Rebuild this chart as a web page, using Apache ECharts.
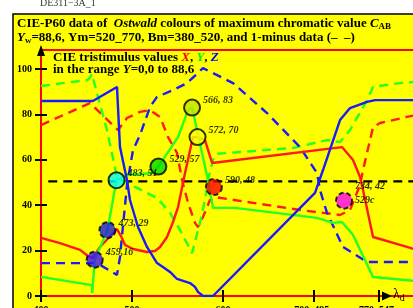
<!DOCTYPE html>
<html><head><meta charset="utf-8">
<script src="https://cdn.jsdelivr.net/npm/echarts@6/dist/echarts.min.js"></script>
<style>html,body{margin:0;padding:0;background:#fff}#c{width:413px;height:308px}</style>
</head><body><div id="c"></div>
<script>
// ---- data (x = dominant wavelength scale, y = tristimulus value) ----
const xTicks = [400, 500, 600, 700, 771];
const xTickLabels = ['400', '500', '600', '700  495c', '770  547c'];
const yTicks = [0, 20, 40, 60, 80, 100];

const seriesX = [[400,25.6],[420.9,23.3],[442.9,20.3],[451.7,17.6],[457,16.7],[464.8,21.6],[483.5,29.5],[487.9,26.4],[492.3,22.5],[501.1,20.7],[516.5,19.4],[525.3,19.8],[530.8,21.6],[538.5,26.0],[545.1,32.6],[550.6,39.2],[558.3,54.2],[567,70.0],[572,70],[580.2,68.7],[588,58.6],[730.8,65.6],[742.9,59.9],[750.6,52.4],[753.9,46.7],[764.9,26.0],[802.2,21.6],[814,20.2]];
const seriesY = [[400,8.4],[456,4.8],[456.3,1.3],[459,16],[473,29],[483,51],[494.5,53.3],[523.1,54.2],[529,57],[550.6,70.0],[561.6,81.9],[566,83],[583.5,51.1],[589,38.8],[613.2,38.8],[703.3,34.4],[720.9,32.2],[730.8,32.6],[742.9,26.9],[764.9,8.4],[814,6.5]];
const seriesZ = [[400,85.9],[457,85.9],[483.5,92.1],[486.8,65.6],[494.5,51.1],[497.8,42.3],[506.6,30.4],[516.5,21.6],[527.5,14.5],[534,12.8],[541.8,10.6],[549.5,7.5],[563.8,5.7],[569.2,4.0],[572.5,1.8],[578,0],[589,0],[701.1,45.4],[709.9,55.5],[728.6,77.5],[739.6,82.8],[758.3,85.5],[767.1,86.3],[814,86.3]];
const seriesX1 = [[400,75.3],[453.9,85.0],[484.6,73.1],[494.5,78.4],[508.8,81.1],[519.8,81.9],[530.8,78.9],[539.6,70.0],[549.5,63.0],[555,51.1],[561.6,41.0],[569.2,32.2],[572.5,30.4],[578,34.8],[585.7,42.3],[591.2,43.6],[684.6,37.9],[728.6,35.7],[739.6,37.9],[750.6,48.9],[753.9,55.5],[764.9,74.4],[772.6,76.2],[802.2,78.9],[814,79.9]];
const seriesY1 = [[400,92.5],[451.7,95.2],[456,97.8],[462.6,87.7],[472.5,73.1],[483.5,52.4],[494.5,49.8],[527.5,43.2],[541.8,36.6],[552.8,29.1],[566,18.9],[574.7,32.2],[580.2,42.3],[583.5,51.1],[589,59.9],[592.3,62.6],[676.9,65.2],[714.3,68.7],[728.6,67.8],[739.6,73.1],[758.3,86.3],[764.9,92.1],[794.5,93.8],[814,94.4]];
const seriesZ1 = [[400,14.5],[461.5,14.5],[483.5,9.3],[486.8,17.2],[494.5,48.9],[501.1,64.3],[508.8,70.9],[519.8,83.3],[527.5,87.7],[545.1,90.7],[560.5,93.8],[578,100.4],[611,93.8],[648.4,80.6],[684.6,65.6],[703.3,54.2],[706.6,46.7],[714.3,36.6],[731.9,21.6],[758.3,15.0],[814,15.0]];
const midLine = [[408,50.5],[814,50.5]];

const pointLambda = [459, 473, 483, 529, 566, 572, 590, 733];
const pointY = [16, 29, 51, 57, 83, 70, 48, 42];
const pointLabel = ['459,16', '473, 29', '483, 51', '529, 57', '566, 83', '572, 70', '590, 48', '734, 42\n529c'];
const pointColor = ['#3a10ff', '#1a1ae8', '#00ffff', '#00d800', '#c4e400', '#ffff00', '#ff0000', '#ff00ff'];
const pointDashed = [true, true, false, false, false, false, true, true];

const serif = '"Liberation Serif","DejaVu Serif",serif';
const chart = echarts.init(document.getElementById('c'), null, {renderer: 'canvas'});

function lineS(data, color, dashed, w) {
  return {type: 'line', data: data, symbol: 'none', silent: true, z: 3,
    lineStyle: {color: color, width: w || 2.4, type: dashed ? [9, 6] : 'solid'}};
}

const scatterData = pointLambda.map((l, i) => ({
  value: [l, pointY[i]],
  itemStyle: {color: pointColor[i], borderColor: '#000', borderWidth: 2, borderType: pointDashed[i] ? [5, 3] : 'solid'},
  label: {formatter: pointLabel[i]}
}));

chart.setOption({
  animation: false,
  backgroundColor: '#ffffff',
  grid: {left: 41, right: -5, top: 50, bottom: 12, outerBoundsMode: 'none', containLabel: false,
    show: true, borderColor: '#ff0000', borderWidth: 2, backgroundColor: 'transparent'},
  xAxis: [{
    type: 'value', min: 400, max: 814.3,
    axisLine: {show: true, lineStyle: {color: '#ff0000', width: 2}},
    splitLine: {show: false},
    axisTick: {show: true, customValues: xTicks, length: 6, lineStyle: {color: '#000', width: 2}},
    axisLabel: {customValues: xTicks, margin: 9, fontFamily: serif, fontWeight: 'bold', fontSize: 10, color: '#000',
      formatter: v => xTickLabels[xTicks.indexOf(v)] || ''}
  }, {
    type: 'value', min: 400, max: 814.3, position: 'bottom',
    axisLine: {show: false}, splitLine: {show: false}, axisLabel: {show: false},
    axisTick: {show: true, inside: true, customValues: xTicks, length: 6, lineStyle: {color: '#000', width: 2}}
  }],
  yAxis: [{
    type: 'value', min: 0, max: 108.37,
    axisLine: {show: true, lineStyle: {color: '#ff0000', width: 2}},
    splitLine: {show: false},
    axisTick: {show: true, customValues: yTicks, length: 6, lineStyle: {color: '#000', width: 2}},
    axisLabel: {customValues: yTicks, margin: 9, fontFamily: serif, fontWeight: 'bold', fontSize: 10, color: '#000'}
  }, {
    type: 'value', min: 0, max: 108.37, position: 'left',
    axisLine: {show: false}, splitLine: {show: false}, axisLabel: {show: false},
    axisTick: {show: true, inside: true, customValues: yTicks, length: 6, lineStyle: {color: '#000', width: 2}}
  }],
  series: [
    lineS(midLine, '#000000', true, 2.4),
    lineS(seriesX1, '#ff1a1a', true),
    lineS(seriesY1, '#22ff22', true),
    lineS(seriesZ1, '#1a1aff', true),
    lineS(seriesX, '#ff1a1a', false),
    lineS(seriesY, '#22ff22', false),
    lineS(seriesZ, '#1a1aff', false),
    {type: 'scatter', data: scatterData, symbolSize: 16, z: 5, silent: true,
      label: {show: true, position: 'right', distance: 2, offset: [0, -7], fontFamily: serif, fontStyle: 'italic', fontWeight: 'bold', fontSize: 10, color: '#000', lineHeight: 14}}
  ],
  graphic: [
    {type: 'rect', z: -10, shape: {x: 13, y: 14, width: 420, height: 310}, style: {fill: '#ffff00', stroke: '#000', lineWidth: 1.5}},
    {type: 'text', x: 40, y: -2, style: {text: 'DE311\u22123A_1', font: '10px ' + serif, fill: '#333'}},
    {type: 'text', x: 17, y: 16, style: {text: '{b|CIE-P60 data of  }{bi|Ostwald}{b| colours of maximum chromatic value }{bi|C}{s|AB}',
      rich: {b: {font: 'bold 13px ' + serif, fill: '#000'}, bi: {font: 'italic bold 13px ' + serif, fill: '#000'}, s: {font: 'bold 9px ' + serif, fill: '#000', padding: [6, 0, 0, 0]}}}},
    {type: 'text', x: 17, y: 30, style: {text: '{bi|Y}{s|w}{b|=88,6, Ym=520_770, Bm=380_520, and 1-minus data (\u2013  \u2013)}',
      rich: {b: {font: 'bold 13px ' + serif, fill: '#000'}, bi: {font: 'italic bold 13px ' + serif, fill: '#000'}, s: {font: 'bold 9px ' + serif, fill: '#000', padding: [6, 0, 0, 0]}}}},
    {type: 'text', x: 53, y: 51, style: {text: '{b|CIE tristimulus values }{r|X}{b|, }{g|Y}{b|, }{z|Z}',
      rich: {b: {font: 'bold 13px ' + serif, fill: '#000'}, r: {font: 'italic bold 13px ' + serif, fill: '#ff0000'}, g: {font: 'italic bold 13px ' + serif, fill: '#00ee00'}, z: {font: 'italic bold 13px ' + serif, fill: '#0000ff'}}}},
    {type: 'text', x: 53, y: 63, style: {text: '{b|in the range }{bi|Y}{b|=0,0 to 88,6}',
      rich: {b: {font: 'bold 13px ' + serif, fill: '#000'}, bi: {font: 'italic bold 13px ' + serif, fill: '#000'}}}},
    {type: 'polygon', z: 10, shape: {points: [[37, 56], [41, 45], [45, 56]]}, style: {fill: '#000'}},
    {type: 'polygon', z: 10, shape: {points: [[382, 291.5], [392, 296], [382, 300.5]]}, style: {fill: '#000'}},
    {type: 'text', x: 393, y: 285, z: 10, style: {text: '{l|\u03bb}{d|d}', rich: {l: {font: '14px ' + serif, fill: '#000'}, d: {font: '10px ' + serif, fill: '#000', padding: [8, 0, 0, 0]}}}}
  ]
});
</script></body></html>
